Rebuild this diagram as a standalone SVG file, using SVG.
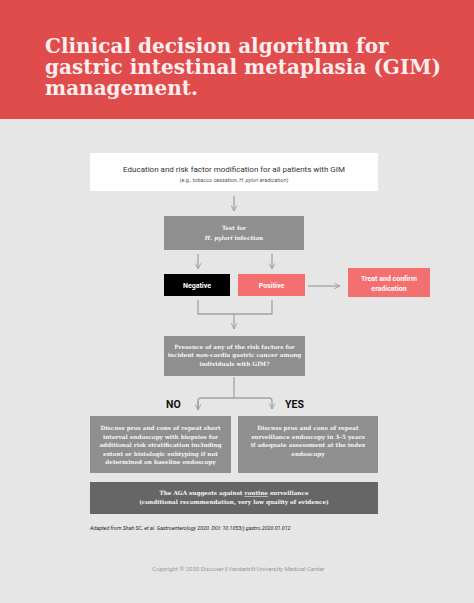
<svg xmlns="http://www.w3.org/2000/svg" width="474" height="603" viewBox="0 0 474 603">
<style>
.title{font-family:"DejaVu Serif","Liberation Serif",serif;font-weight:bold;font-size:20px;fill:#fbeeee}
.sans{font-family:Roboto,"Liberation Sans",sans-serif}
.ser{font-family:"DejaVu Serif","Liberation Serif",serif;font-weight:bold;font-size:5.7px;fill:#f4f4f4;text-anchor:middle}
.lab{font-family:Roboto,"Liberation Sans",sans-serif;font-weight:bold;font-size:7px;fill:#ffffff;text-anchor:middle}
.ln{fill:none;stroke:#a3a3a3;stroke-width:1.3}
</style>
<defs>
<marker id="ah" viewBox="0 0 10 10" refX="9" refY="5" markerWidth="7" markerHeight="7" markerUnits="userSpaceOnUse" orient="auto">
<path d="M1,1 L9,5 L1,9" fill="none" stroke="#a3a3a3" stroke-width="1.4"/>
</marker>
</defs>
<rect x="0" y="0" width="474" height="603" fill="#e6e6e6"/>
<rect x="0" y="0" width="474" height="119" fill="#e04b4b"/>
<text class="title"><tspan x="45" y="53">Clinical decision algorithm for</tspan><tspan x="45" y="74">gastric intestinal metaplasia (GIM)</tspan><tspan x="45" y="95">management.</tspan></text>

<g id="connectors">
<path class="ln" d="M234,196 V211" marker-end="url(#ah)"/>
<path class="ln" d="M198,254 V269" marker-end="url(#ah)"/>
<path class="ln" d="M272,254 V269" marker-end="url(#ah)"/>
<path class="ln" d="M308,286 H340" marker-end="url(#ah)"/>
<path class="ln" d="M198,300 V314 H272 V300"/>
<path class="ln" d="M234,314 V329" marker-end="url(#ah)"/>
<path class="ln" d="M234,377 V398"/>
<path class="ln" d="M198,409 V401 Q198,398 201,398 H269 Q272,398 272,401 V409" marker-end="url(#ah)"/>
<path class="ln" d="M198,401 V410" marker-end="url(#ah)"/>
</g>

<g id="education">
<rect x="90" y="153" width="288" height="38" fill="#ffffff"/>
<text class="sans" x="234" y="172" font-size="8" fill="#333" text-anchor="middle">Education and risk factor modification for all patients with GIM</text>
<text class="sans" x="234" y="181.5" font-size="5.4" fill="#555" text-anchor="middle">(e.g., tobacco cessation, <tspan font-style="italic">H. pylori</tspan> eradication)</text>
</g>

<g id="test">
<rect x="164" y="216" width="140" height="34" fill="#8f8f8f"/>
<text class="ser" x="234" y="230" font-size="5.4">Test for</text>
<text class="ser" x="234" y="239.5" font-size="5.4"><tspan font-style="italic">H. pylori</tspan> infection</text>
</g>

<g id="negative">
<rect x="164" y="274" width="66" height="22" fill="#000000"/>
<text class="lab" x="197" y="287.5">Negative</text>
</g>

<g id="positive">
<rect x="238" y="274" width="67" height="22" fill="#f46f6f"/>
<text class="lab" x="271.5" y="287.5">Positive</text>
</g>

<g id="treat">
<rect x="348" y="268" width="82" height="29" fill="#f46f6f"/>
<text class="lab" x="389" y="280.5">Treat and confirm</text>
<text class="lab" x="389" y="290.5">eradication</text>
</g>

<g id="question">
<rect x="164" y="336" width="141" height="40" fill="#8f8f8f"/>
<text class="ser" x="234.5" y="349">Presence of any of the risk factors for</text>
<text class="ser" x="234.5" y="357.3">incident non-cardia gastric cancer among</text>
<text class="ser" x="234.5" y="365.6">individuals with GIM?</text>
</g>

<g id="no">
<text class="sans" x="166" y="408" font-size="10.5" font-weight="bold" fill="#111">NO</text>
</g>
<g id="yes">
<text class="sans" x="285" y="408" font-size="10.5" font-weight="bold" fill="#111">YES</text>
</g>

<g id="no-action">
<rect x="90" y="416" width="141" height="57" fill="#8f8f8f"/>
<text class="ser" x="160.5" y="430">Discuss pros and cons of repeat short</text>
<text class="ser" x="160.5" y="438.5">interval endoscopy with biopsies for</text>
<text class="ser" x="160.5" y="447">additional risk stratification including</text>
<text class="ser" x="160.5" y="455.5">extent or histologic subtyping if not</text>
<text class="ser" x="160.5" y="464">determined on baseline endoscopy</text>
</g>

<g id="yes-action">
<rect x="238" y="416" width="140" height="57" fill="#8f8f8f"/>
<text class="ser" x="308" y="430">Discuss pros and cons of repeat</text>
<text class="ser" x="308" y="438.5">surveillance endoscopy in 3–5 years</text>
<text class="ser" x="308" y="447">if adequate assessment at the index</text>
<text class="ser" x="308" y="455.5">endoscopy</text>
</g>

<g id="aga">
<rect x="90" y="482" width="288" height="32" fill="#666666"/>
<text class="ser" x="234" y="495" font-size="5.8">The AGA suggests against <tspan text-decoration="underline">routine</tspan> surveillance</text>
<text class="ser" x="234" y="504" font-size="5.8">(conditional recommendation, very low quality of evidence)</text>
</g>

<text class="sans" x="90" y="530" font-size="5.3" font-style="italic" fill="#222">Adapted from Shah SC, et al. Gastroenterology 2020. DOI: 10.1053/j.gastro.2020.01.012</text>
<text class="sans" x="238.5" y="571" font-size="6" fill="#9a9a9a" text-anchor="middle">Copyright © 2020 Discover <tspan fill="#555" font-weight="bold">|</tspan> Vanderbilt University Medical Center</text>
</svg>
